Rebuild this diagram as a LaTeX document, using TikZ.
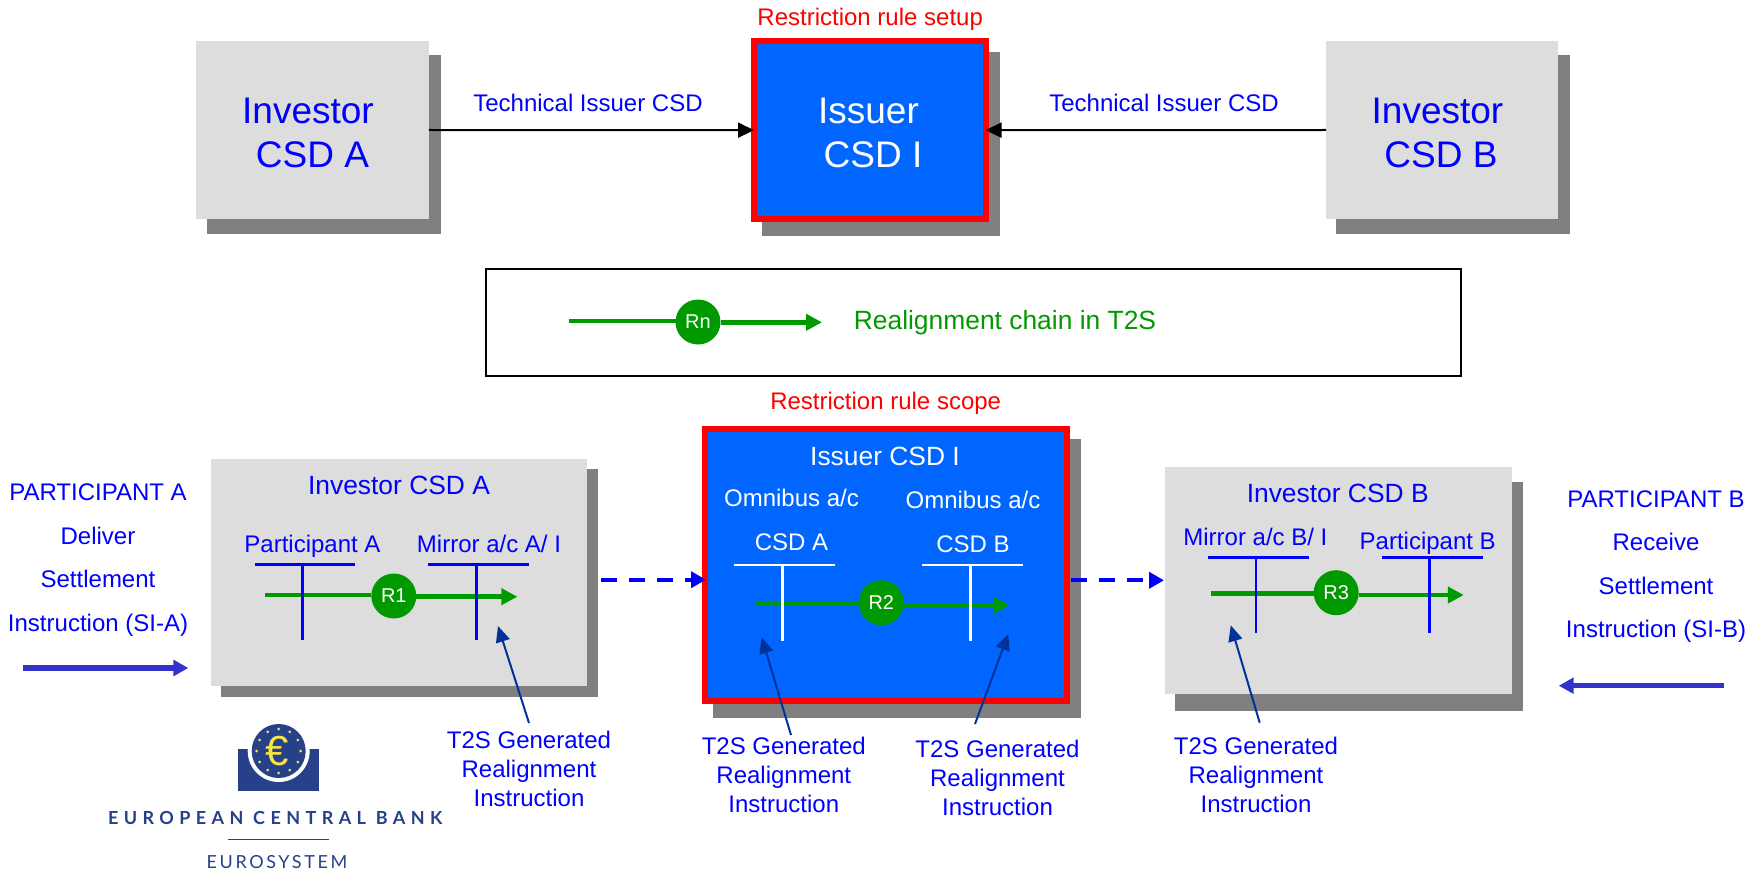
\documentclass[tikz,border=0pt]{standalone}
\usepackage{fontspec}
\setmainfont{Liberation Sans}
\newfontfamily\ecbbold[LetterSpace=30]{Lato}
\newfontfamily\ecbreg[LetterSpace=14.5]{Lato}
\usetikzlibrary{arrows.meta,positioning,calc}
\definecolor{boxgray}{HTML}{DDDDDD}
\definecolor{shadowgray}{HTML}{808080}
\definecolor{issuerblue}{HTML}{0066FF}
\definecolor{txtblue}{HTML}{0000FF}
\definecolor{chaingreen}{HTML}{009900}
\definecolor{calloutblue}{HTML}{003399}
\definecolor{flowblue}{HTML}{3333CC}
\definecolor{ecbnavy}{HTML}{26408A}
\definecolor{ecbyellow}{HTML}{F5E642}
\tikzset{
  x=1pt,y=-1pt,
  shadowbox/.style={fill=shadowgray,draw=none,inner sep=0,outer sep=0},
  investorbox/.style={fill=boxgray,draw=none,inner sep=0,outer sep=0},
  issuerbox/.style={fill=issuerblue,draw=red,line width=6pt,inner sep=0,outer sep=0},
  lbl/.style={inner sep=0,outer sep=0,anchor=base,align=center,text=txtblue,font=\fontsize{24}{29}\selectfont},
  lblwide/.style={lbl,font=\fontsize{24}{43.5}\selectfont},
  lbltitle/.style={lbl,font=\fontsize{26.4}{30}\selectfont},
  lblbig/.style={lbl,font=\fontsize{37}{44}\selectfont},
  redlbl/.style={lbl,text=red},
  rcirc/.style={circle,fill=chaingreen,draw=none,minimum size=45pt,inner sep=0,outer sep=0,text=white,font=\fontsize{20}{24}\selectfont},
  chain/.style={draw=chaingreen,line width=4.5pt},
  chainend/.style={chain,-{Triangle[length=16pt,width=16pt]}},
  blackarrow/.style={draw=black,line width=2pt,-{Triangle[length=16pt,width=15pt]}},
  dasharrow/.style={draw=txtblue,line width=4pt,dash pattern=on 16pt off 12pt,-{Triangle[length=15pt,width=16pt]}},
  flowarrow/.style={draw=flowblue,line width=5.5pt,-{Triangle[length=15pt,width=15.5pt]}},
  callout/.style={draw=calloutblue,line width=2pt,-{Triangle[length=16pt,width=14pt]}},
  acctline/.style={line width=2.6pt},
}
\newcommand{\tacct}[6]{%
  \draw[acctline,draw=#6] (#1,#4) -- (#2,#4);
  \draw[acctline,draw=#6] (#3,#4) -- (#3,#5);
}
\begin{document}
\begin{tikzpicture}
\useasboundingbox (0,0) rectangle (1762,869);

% --- top row
\node[shadowbox,minimum width=234pt,minimum height=179pt] (sA) at (324,144.5) {};
\node[investorbox,minimum width=233pt,minimum height=178pt] (topA) at (312.4,130) {};
\node[lblbig,text=txtblue] (topAt) at (312.5,167.2) {Investor\hspace*{9pt}\\CSD A};

\node[shadowbox,minimum width=238pt,minimum height=184pt] (sI) at (881,144) {};
\node[issuerbox,minimum width=231.5pt,minimum height=177.7pt] (topI) at (869.75,130.15) {};
\node[lblbig,text=white] (topIt) at (873,167.2) {Issuer\hspace*{9pt}\\CSD I};

\node[shadowbox,minimum width=234pt,minimum height=179pt] (sB) at (1453,144.5) {};
\node[investorbox,minimum width=232pt,minimum height=178pt] (topB) at (1442,130) {};
\node[lblbig,text=txtblue] (topBt) at (1441,167.2) {Investor\hspace*{7pt}\\CSD B};

\node[redlbl] (setup) at (870.2,26) {Restriction rule setup};
\node[lbl] (tech1) at (588,111.6) {Technical Issuer CSD};
\node[lbl] (tech2) at (1164,111.6) {Technical Issuer CSD};
\draw[blackarrow] (topA.east) -- (topI.west);
\draw[blackarrow] (topB.west) -- (topI.east);

% --- legend
\node[draw=black,line width=2pt,inner sep=0,outer sep=0,minimum width=975pt,minimum height=107pt] (legend) at (973.5,322.2) {};
\node[rcirc] (Rn) at (698,322) {Rn};
\coordinate (ln0) at (569,321);
\coordinate (ln1) at (822,322.3);
\draw[chain] (ln0) -- (ln0 -| Rn.west);
\draw[chainend] (ln1 -| Rn.east) -- (ln1);
\node[lbl,text=chaingreen,font=\fontsize{26.4}{30}\selectfont] (legt) at (1005,329.5) {Realignment chain in T2S};

% --- bottom: investor A
\node[shadowbox,minimum width=377pt,minimum height=227.7pt] (sA2) at (409.5,582.85) {};
\node[investorbox,minimum width=376pt,minimum height=227pt] (botA) at (399,572.5) {};
\node[lbltitle] (botAt) at (399,494.2) {Investor CSD A};
\node[lbl] (pA) at (312.5,552.6) {Participant A};
\node[lbl] (mA) at (489,552.6) {Mirror a/c A/ I};
\node[rcirc] (R1) at (393.8,596) {R1};
\coordinate (a0) at (265,595);
\coordinate (a1) at (517.4,596.7);
\draw[chain] (a0) -- (a0 -| R1.west);
\draw[chainend] (a1 -| R1.east) -- (a1);
\tacct{254.5}{355.4}{302.7}{564.3}{640}{txtblue}
\tacct{427.7}{529}{476.3}{564.3}{640}{txtblue}

% --- bottom: issuer I
\node[shadowbox,minimum width=367.7pt,minimum height=278.7pt] (sI2) at (897.15,578.65) {};
\node[issuerbox,minimum width=361.7pt,minimum height=272pt] (botI) at (886.15,565) {};
\node[lbltitle,text=white] (botIt) at (885,465.2) {Issuer CSD I};
\node[lblwide,text=white] (oA) at (791.5,550.3) {Omnibus a/c\\CSD A};
\node[lblwide,text=white] (oB) at (973,552.3) {Omnibus a/c\\CSD B};
\node[rcirc] (R2) at (881.3,602.7) {R2};
\coordinate (i0) at (756,604);
\coordinate (i1) at (1009.3,605.3);
\draw[chain] (i0) -- (i0 -| R2.west);
\draw[chainend] (i1 -| R2.east) -- (i1);
\tacct{734}{835.3}{782.3}{565}{640.7}{white}
\tacct{922}{1023.3}{970.7}{565}{640.7}{white}
\node[redlbl] (scope) at (885.7,409.6) {Restriction rule scope};

% --- bottom: investor B
\node[shadowbox,minimum width=348pt,minimum height=228.4pt] (sB2) at (1349,596.5) {};
\node[investorbox,minimum width=347pt,minimum height=226.7pt] (botB) at (1338.3,580.35) {};
\node[lbltitle] (botBt) at (1337.7,502.5) {Investor CSD B};
\node[lbl] (mB) at (1255.4,545.6) {Mirror a/c B/ I};
\node[lbl] (pB) at (1427.7,549.6) {Participant B};
\node[rcirc] (R3) at (1336.2,592.7) {R3};
\coordinate (b0) at (1211,593.7);
\coordinate (b1) at (1463.8,595);
\draw[chain] (b0) -- (b0 -| R3.west);
\draw[chainend] (b1 -| R3.east) -- (b1);
\tacct{1208}{1309}{1256}{557.7}{633.3}{txtblue}
\tacct{1381.5}{1482.5}{1429.5}{557.7}{633.3}{txtblue}

% --- dashed flows
\coordinate (d1s) at (601,579.7);
\coordinate (d1e) at (706,579.7);
\coordinate (d2s) at (1070.7,580.3);
\coordinate (d2e) at (1164,580.3);
\draw[dasharrow] (d1s) -- (d1e);
\draw[dasharrow] (d2s) -- (d2e);

% --- participants
\node[lblwide] (partA) at (98,631.3) {PARTICIPANT A\\Deliver\\Settlement\\Instruction (SI-A)};
\coordinate (fa0) at (23,668);
\coordinate (fa1) at (188.4,668);
\draw[flowarrow] (fa0) -- (fa1);
\node[lblwide] (partB) at (1656,637.9) {PARTICIPANT B\\Receive\\Settlement\\Instruction (SI-B)};
\coordinate (fb0) at (1724,685.7);
\coordinate (fb1) at (1558.7,685.7);
\draw[flowarrow] (fb0) -- (fb1);

% --- T2S generated notes
\node[lbl] (n1) at (529,806.6) {T2S Generated\\Realignment\\Instruction};
\node[lbl] (n2) at (783.8,812.3) {T2S Generated\\Realignment\\Instruction};
\node[lbl] (n3) at (997.5,815.3) {T2S Generated\\Realignment\\Instruction};
\node[lbl] (n4) at (1256,812.3) {T2S Generated\\Realignment\\Instruction};
\coordinate (c1s) at (529,723);   \coordinate (c1e) at (498,626);
\coordinate (c2s) at (791,735);   \coordinate (c2e) at (761.7,637.3);
\coordinate (c3s) at (975,724);   \coordinate (c3e) at (1008.3,634);
\coordinate (c4s) at (1259.7,722.7); \coordinate (c4e) at (1230.8,625.3);
\draw[callout] (c1s) -- (c1e);
\draw[callout] (c2s) -- (c2e);
\draw[callout] (c3s) -- (c3e);
\draw[callout] (c4s) -- (c4e);

% --- ECB logo
\fill[ecbnavy] (238,749.3) rectangle (319.3,791);
\fill[white] (278.7,751) circle (31);
\fill[white] (248,720) rectangle (310,749.3);
\fill[ecbnavy] (278.7,751) circle (27);
\foreach \a in {0,30,...,330}
  \fill[ecbyellow] ($(278.7,751)+(\a:22)$) circle (1.5);
\node[inner sep=0,outer sep=0,text=ecbyellow,font=\fontsize{42}{42}\selectfont] (euro) at (276.7,750.7) {€};
\node[inner sep=0,outer sep=0,anchor=base,text=ecbnavy,font=\ecbbold\bfseries\fontsize{18}{20}\selectfont] (ecb) at (275.2,824.5) {EUROPEAN CENTRAL BANK};
\draw[ecbnavy,line width=1pt] (228,839.3) -- (329,839.3);
\node[inner sep=0,outer sep=0,anchor=base,text=ecbnavy,font=\ecbreg\fontsize{18}{20}\selectfont] (esys) at (276.9,868) {EUROSYSTEM};
\end{tikzpicture}
\end{document}
